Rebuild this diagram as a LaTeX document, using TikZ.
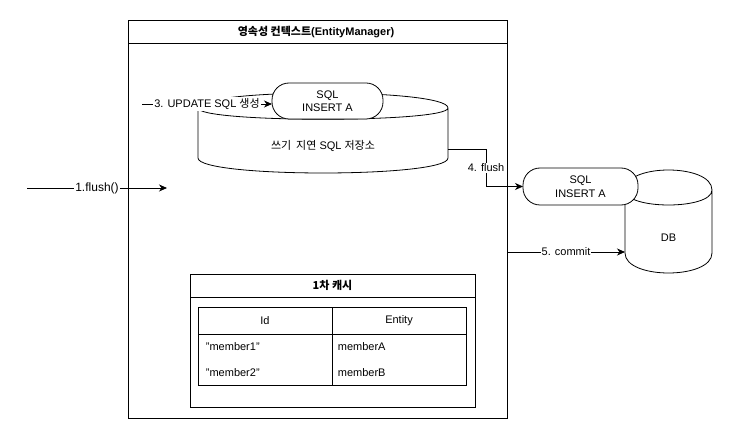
\documentclass[tikz,border=0pt]{standalone}
\usepackage{fontspec}
\setmainfont{Liberation Sans}
\newfontfamily\kr{Noto Sans CJK KR}
\usetikzlibrary{arrows.meta,calc}
\newcommand\cylshape[2]{%
  \path[draw,fill=white] let \p1=(#1.north west), \p2=(#1.south east) in
   (\x1,\y1-#2pt) .. controls (\x1,\y1+#2pt/3) and (\x2,\y1+#2pt/3) .. (\x2,\y1-#2pt)
   -- (\x2,\y2+#2pt) .. controls (\x2,\y2-#2pt/3) and (\x1,\y2-#2pt/3) .. (\x1,\y2+#2pt) -- cycle
   (\x1,\y1-#2pt) .. controls (\x1,\y1-2*#2pt) and (\x2,\y1-2*#2pt) .. (\x2,\y1-#2pt);}
\tikzset{
  holder/.style={inner sep=0pt, outer sep=0pt},
  frame/.style={draw, inner sep=0pt, outer sep=0pt},
  pill/.style={draw, fill=white, rounded corners=17pt, align=center, inner sep=0pt, outer sep=0pt},
  lbl/.style={fill=white, inner sep=1pt},
  ttl/.style={font=\fontsize{11}{13.5}\selectfont\bfseries},
  cell/.style={anchor=west, inner sep=2pt},
  arr/.style={-{Stealth[length=8pt,width=7pt,inset=2.5pt]}},
}
\begin{document}
\begin{tikzpicture}[x=1pt,y=-1pt,font=\fontsize{11}{13.5}\selectfont,line width=0.8pt]
\useasboundingbox (0,0) rectangle (733,438);
% persistence context
\node[frame, minimum width=379pt, minimum height=398pt] (pc) at (317.5,219) {};
\node[ttl] (pctitle) at (316,32) {{\kr 영속성 컨텍스트}(EntityManager)};
\draw ([yshift=-23.5pt]pc.north west) -- ([yshift=-23.5pt]pc.north east);
% write-behind store
\node[holder, minimum width=250pt, minimum height=80pt] (store) at (323,133) {};
\cylshape{store}{15}
\node (storetxt) at (323,146) {{\kr 쓰기\ \ 지연} SQL {\kr 저장소}};
\node[pill, minimum width=111pt, minimum height=36pt] (sqlA) at (327.5,101) {SQL\\INSERT A};
% first-level cache
\node[frame, minimum width=285pt, minimum height=133pt] (cache) at (332.5,340.5) {};
\node[ttl] (cachetitle) at (332.5,285.5) {{\kr 1차 캐시}};
\draw ([yshift=-23pt]cache.north west) -- ([yshift=-23pt]cache.north east);
\node[frame, minimum width=268pt, minimum height=78pt] (tbl) at (332.2,346) {};
\draw (tbl.north) -- (tbl.south);
\draw ([yshift=-27pt]tbl.north west) -- ([yshift=-27pt]tbl.north east);
\node (hid) at (265,320.5) {Id};
\node (hent) at (399,320.5) {Entity};
\node[cell] (m1) at (203.5,347) {"member1"};
\node[cell] (m2) at (203.5,373) {"member2"};
\node[cell] (ma) at (335.5,347) {memberA};
\node[cell] (mb) at (335.5,373) {memberB};
% DB
\node[holder, minimum width=87pt, minimum height=103pt] (db) at (668.5,221.5) {};
\cylshape{db}{20}
\node (dbtxt) at (668.5,238) {DB};
\node[pill, minimum width=115pt, minimum height=37pt] (sqlB) at (580.5,186.5) {SQL\\INSERT A};
% connectors
\coordinate (a1s) at (27,188);
\coordinate (a1e) at (167,188);
\draw[arr] (a1s) -- node[lbl,font=\fontsize{12}{14}\selectfont]{1.flush()} (a1e);
\coordinate (a3s) at (142,104);
\draw[arr] (a3s) -- node[lbl]{3. UPDATE SQL {\kr 생성}} (a3s -| sqlA.west);
\coordinate (h4) at (0,149);
\coordinate (v4) at (486,0);
\draw[arr] (store.east |- h4) -- (v4 |- h4) |- node[lbl,pos=0.25]{4. flush} (sqlB.west);
\coordinate (a5s) at (507,252);
\draw[arr] (a5s) -- node[lbl]{5. commit} (a5s -| db.west);
\end{tikzpicture}
\end{document}
